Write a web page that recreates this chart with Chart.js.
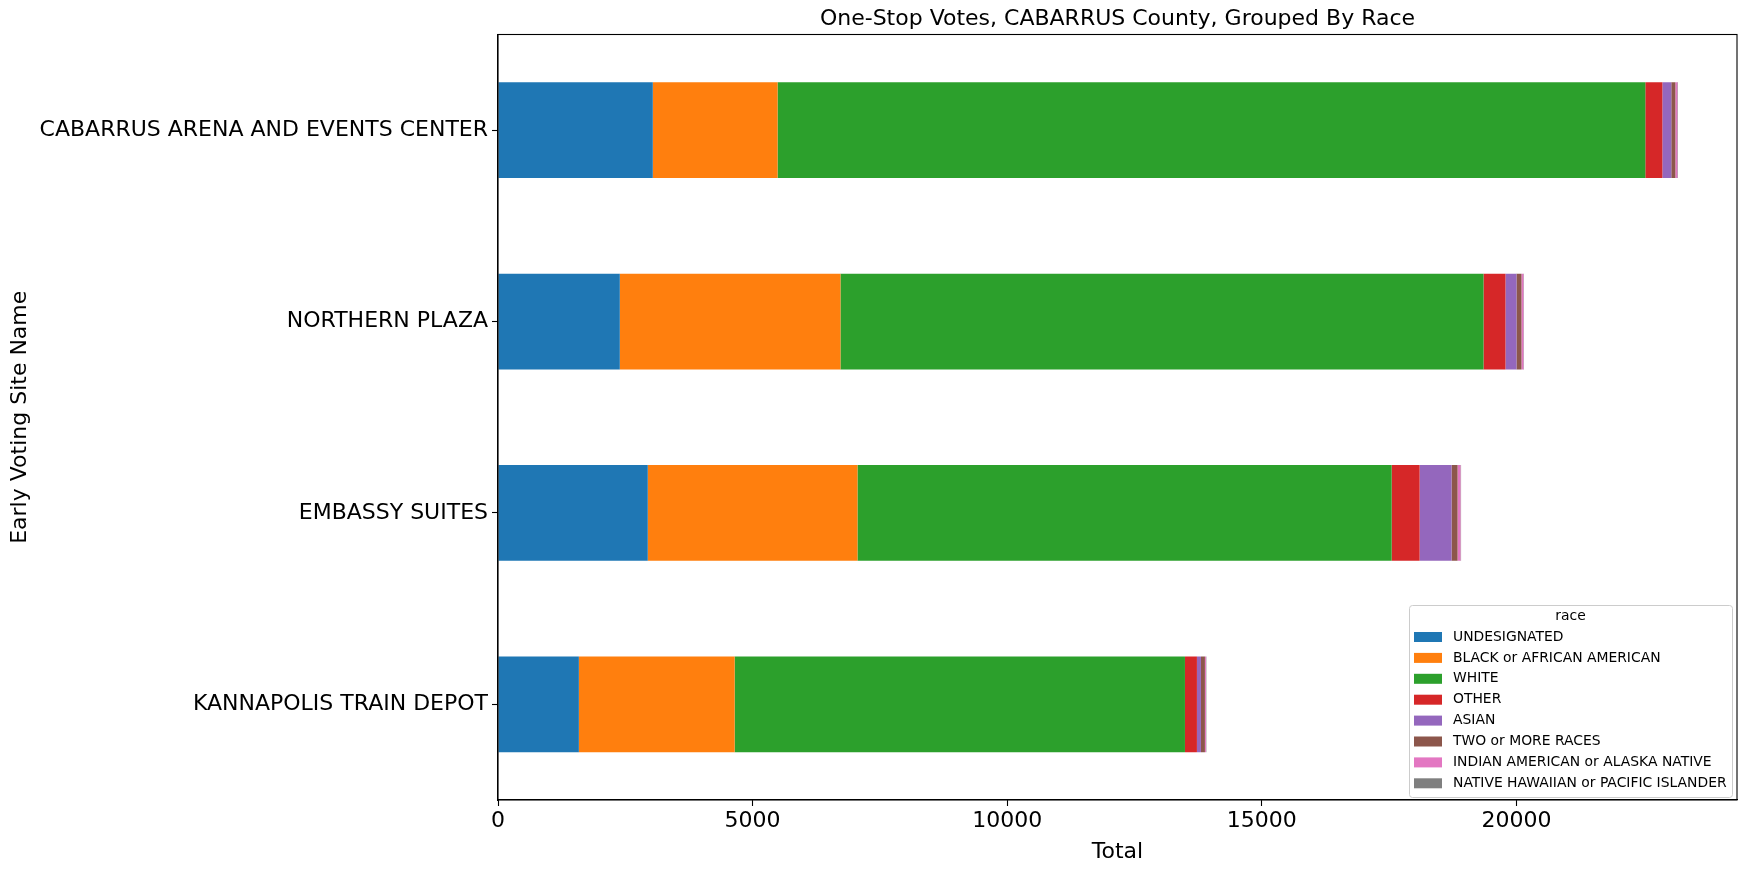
<!DOCTYPE HTML><html>
<head>
  <title>One-Stop Votes, CABARRUS County</title>
  <style>
  body {
    margin: 0;
    background: white;
  }
  </style>
  <script src="https://cdn.jsdelivr.net/npm/chart.js"></script>
</head>
<body>
  <canvas id="votes-chart" width="1748" height="869"></canvas>
<script>
  // sites, top to bottom as in the picture
  var sites = ['CABARRUS ARENA AND EVENTS CENTER', 'NORTHERN PLAZA', 'EMBASSY SUITES', 'KANNAPOLIS TRAIN DEPOT'];

  var undesignated = [3040, 2392, 2941, 1588];
  var blackAfrican = [2450, 4333, 4118, 3059];
  var white = [17040, 12628, 10490, 8843];
  var other = [335, 431, 549, 235];
  var asian = [175, 216, 627, 79];
  var twoOrMore = [80, 98, 118, 78];
  var indianAlaska = [40, 39, 59, 20];
  var hawaiianPacific = [12, 10, 10, 8];

  var xTicks = [0, 5000, 10000, 15000, 20000];

  var titleText = 'One-Stop Votes, CABARRUS County, Grouped By Race';
  var font = "'DejaVu Sans', sans-serif";

  var series = [
    ['UNDESIGNATED', undesignated, '#1f77b4'],
    ['BLACK or AFRICAN AMERICAN', blackAfrican, '#ff7f0e'],
    ['WHITE', white, '#2ca02c'],
    ['OTHER', other, '#d62728'],
    ['ASIAN', asian, '#9467bd'],
    ['TWO or MORE RACES', twoOrMore, '#8c564b'],
    ['INDIAN AMERICAN or ALASKA NATIVE', indianAlaska, '#e377c2'],
    ['NATIVE HAWAIIAN or PACIFIC ISLANDER', hawaiianPacific, '#7f7f7f']
  ];

  var datasets = series.map(function (s) {
    return {
      label: s[0],
      data: s[1],
      backgroundColor: s[2],
      borderWidth: 0,
      barPercentage: 0.5,
      categoryPercentage: 1.0
    };
  });

  // pandas-like x limit: 5% past the longest bar
  var totals = sites.map(function (_, i) {
    return series.reduce(function (a, s) { return a + s[1][i]; }, 0);
  });
  var xMax = Math.max.apply(null, totals) * 1.05;

  // box around the plot, title over the plot, legend in lower right
  var framePlugin = {
    id: 'frame',
    afterDraw: function (chart) {
      var ctx = chart.ctx, a = chart.chartArea;
      ctx.save();
      ctx.strokeStyle = '#000';
      ctx.lineWidth = 1.1;
      ctx.strokeRect(a.left, a.top, a.right - a.left, a.bottom - a.top);

      ctx.fillStyle = '#000';
      ctx.font = '22px ' + font;
      ctx.textAlign = 'center';
      ctx.textBaseline = 'middle';
      ctx.fillText(titleText, (a.left + a.right) / 2, 19);

      // legend
      var bx = 1409, by = 605, bw = 323, bh = 192;
      ctx.fillStyle = 'rgba(255,255,255,0.8)';
      ctx.strokeStyle = '#cccccc';
      ctx.lineWidth = 1;
      ctx.beginPath();
      ctx.roundRect(bx + 0.5, by + 0.5, bw, bh, 3);
      ctx.fill();
      ctx.stroke();

      ctx.fillStyle = '#000';
      ctx.font = '13.9px ' + font;
      ctx.textAlign = 'center';
      ctx.fillText('race', bx + bw / 2, by + 11);
      ctx.textAlign = 'left';
      chart.data.datasets.forEach(function (ds, i) {
        var y = by + 32 + i * 20.9;
        ctx.fillStyle = ds.backgroundColor;
        ctx.fillRect(bx + 5, y - 5, 28, 10);
        ctx.fillStyle = '#000';
        ctx.fillText(ds.label, bx + 44, y);
      });
      ctx.restore();
    }
  };

  var config = {
    type: 'bar',
    data: { labels: sites, datasets: datasets },
    plugins: [framePlugin],
    options: {
      responsive: false,
      animation: false,
      indexAxis: 'y',
      layout: { padding: { left: 0, right: 11, top: 34.5, bottom: 0 } },
      plugins: {
        legend: { display: false },
        tooltip: { enabled: false },
        title: { display: false }
      },
      scales: {
        x: {
          stacked: true,
          min: 0,
          max: xMax,
          afterBuildTicks: function (scale) {
            scale.ticks = xTicks.map(function (v) { return { value: v }; });
          },
          afterFit: function (scale) { scale.height = 69; },
          grid: { display: true, drawOnChartArea: false, drawTicks: true, tickLength: 6, color: '#000', tickWidth: 1.1 },
          border: { display: true, color: '#000', width: 1.1 },
          ticks: {
            color: '#000',
            font: { family: font, size: 22 },
            padding: 2,
            maxRotation: 0,
            callback: function (v) { return String(v); }
          },
          title: {
            display: true,
            text: 'Total',
            color: '#000',
            font: { family: font, size: 22 },
            padding: { top: 0, bottom: 4 }
          }
        },
        y: {
          stacked: true,
          afterFit: function (scale) { scale.width = 498; },
          grid: { display: true, offset: false, drawOnChartArea: false, drawTicks: true, tickLength: 6, color: '#000', tickWidth: 1.1 },
          border: { display: true, color: '#000', width: 1.1 },
          ticks: { color: '#000', font: { family: font, size: 22 }, padding: 4 },
          title: {
            display: true,
            text: 'Early Voting Site Name',
            color: '#000',
            font: { family: font, size: 22 },
            padding: { top: 7, bottom: 0 }
          }
        }
      }
    }
  };

  var votesChart = new Chart(document.getElementById('votes-chart'), config);
</script>
</body>
</html>
